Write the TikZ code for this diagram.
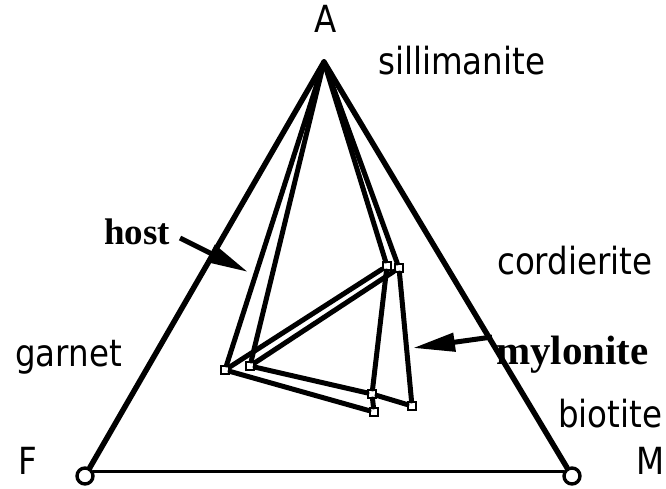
\documentclass[tikz,border=0pt]{standalone}
\usepackage{fontspec}
\usetikzlibrary{arrows.meta}
\newfontfamily\genevafont{DejaVu Sans}
\newfontfamily\timesfont{Liberation Serif}
\newcommand\tallsans[1]{\scalebox{1}[1.15]{#1}}

\tikzset{
  phase/.style={font=\genevafont\fontsize{32.5}{34}\selectfont, inner sep=0pt, anchor=base west},
  rock/.style={font=\timesfont\bfseries\fontsize{41}{43}\selectfont, inner sep=0pt, anchor=base west},
  side/.style={line width=5.5pt, line cap=round},
  tie/.style={line width=5pt, line cap=round},
  comp/.style={draw, fill=white, line width=2pt, minimum size=8pt, inner sep=0pt},
  apexend/.style={draw, circle, fill=white, line width=3.4pt, minimum size=16pt, inner sep=0pt},
  pointer/.style={line width=5pt, -{Triangle[length=42pt,width=18pt]}}
}

\begin{document}
\begin{tikzpicture}[x=1pt,y=-1pt]
\path[use as bounding box] (0,0) rectangle (666,489);

% corners of the AFM triangle
\coordinate (A) at (324,62);
\node[apexend] (Fc) at (85,476) {};
\node[apexend] (Mc) at (572,476) {};

% compositions: host (h) and mylonite (m)
\node[comp] (gh) at (225,370) {};
\node[comp] (gm) at (250,366) {};
\node[comp] (ch) at (387,266) {};
\node[comp] (cm) at (399,268) {};
\node[comp] (bx) at (372,394) {};
\node[comp] (bh) at (374,412) {};
\node[comp] (bm) at (412,406) {};

% outline
\draw[side] (A) -- (Fc);
\draw[side] (A) -- (Mc);
\draw[line width=3.2pt] (Fc.30) -- (Mc.150);

% tie lines
\draw[tie] (A) -- (gh);
\draw[tie] (A) -- (gm);
\draw[tie] (A) -- (ch);
\draw[tie] (A) -- (cm);
\draw[tie] (gh) -- (ch);
\draw[tie] (gm) -- (cm);
\draw[tie] (gh) -- (bh);
\draw[tie] (gm) -- (bx) -- (bm);
\draw[tie] (ch) -- (bx) -- (bh);
\draw[tie] (cm) -- (bm);

% labels
\node[phase] (Albl) at (314,33) {\tallsans{A}};
\node[phase] (sil) at (378,75) {\tallsans{sillimanite}};
\node[phase] (crd) at (497,274) {\tallsans{cordierite}};
\node[phase] (grt) at (15,366) {\tallsans{garnet}};
\node[phase] (bt) at (558,427) {\tallsans{biotite}};
\node[phase] (Flbl) at (18,474) {\tallsans{F}};
\node[phase] (Mlbl) at (636,474) {\tallsans{M}};

\node[rock, font=\timesfont\bfseries\fontsize{37}{39}\selectfont] (host) at (104,244) {host};
\node[rock] (myl) at (496,364) {mylonite};

% arrows
\coordinate (hosttail) at (180,238);
\coordinate (hosttip) at (248,272);
\coordinate (myltail) at (492,337);
\coordinate (myltip) at (413,348);
\draw[pointer] (hosttail) -- (hosttip);
\draw[pointer] (myltail) -- (myltip);
\end{tikzpicture}
\end{document}
